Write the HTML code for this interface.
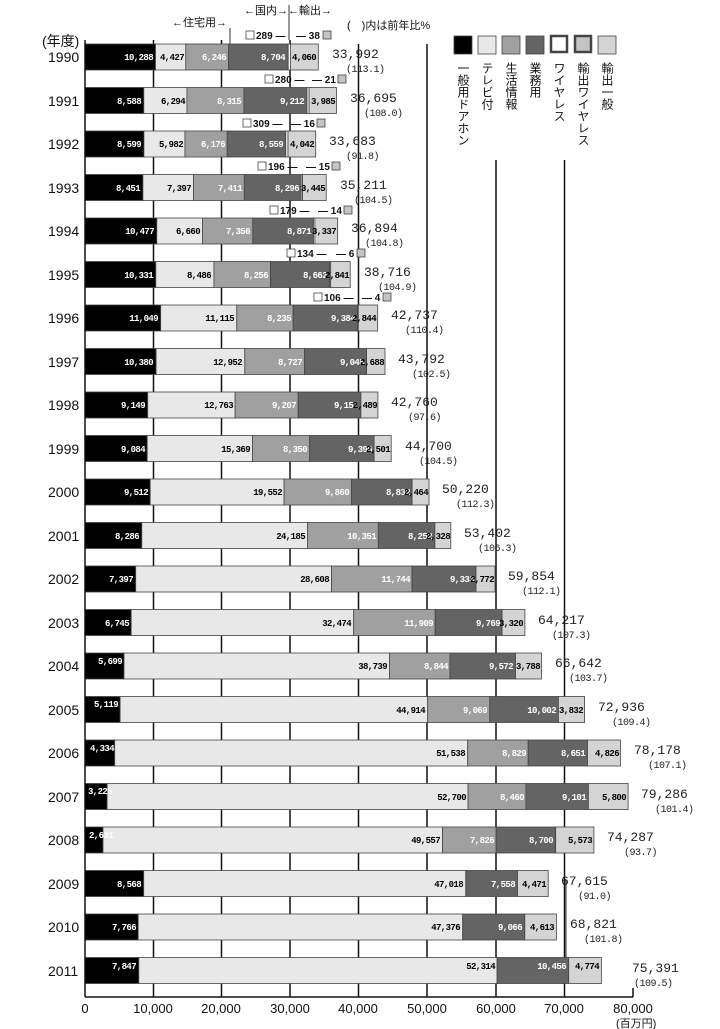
<!DOCTYPE html>
<html><head><meta charset="utf-8"><style>
html,body{margin:0;padding:0;background:#fff}
svg{display:block}
.y{font:14px "Liberation Sans","Noto Sans CJK JP",sans-serif;fill:#111}
.v{font:bold 9px "Liberation Mono","DejaVu Sans Mono",monospace;letter-spacing:-0.6px}
.w{fill:#fff}.k{fill:#000}
.t{font:13px "Liberation Mono","DejaVu Sans Mono",monospace;fill:#222}
.p{font:10px "Liberation Mono","DejaVu Sans Mono",monospace;fill:#222;letter-spacing:-0.5px}
.j{font:11px "Liberation Sans","Noto Sans CJK JP",sans-serif;fill:#111}
.ax{font:13px "Liberation Sans",sans-serif;fill:#111}
.c{font:bold 10px "Liberation Sans",sans-serif;fill:#111}
rect{stroke:#444;stroke-width:.8}
</style></head><body>
<svg width="720" height="1029" viewBox="0 0 720 1029" xmlns="http://www.w3.org/2000/svg">
<g stroke="#111" stroke-width="1.5">
<line x1="153.5" y1="40" x2="153.5" y2="997"/><line x1="221.5" y1="40" x2="221.5" y2="997"/>
<line x1="290" y1="40" x2="290" y2="997"/><line x1="358.5" y1="44" x2="358.5" y2="997"/>
<line x1="427" y1="44" x2="427" y2="997"/><line x1="496" y1="160" x2="496" y2="997"/>
<line x1="564.5" y1="160" x2="564.5" y2="997"/>
</g>
<g stroke="#333" stroke-width="1">
<line x1="230" y1="28" x2="230" y2="44"/><line x1="289" y1="5" x2="289" y2="40"/>
<line x1="566" y1="880" x2="566" y2="960"/>
</g>
<text class="j" x="172" y="26">←住宅用→</text>
<text class="j" x="244" y="14">←国内→←輸出→</text>
<text class="j" x="347" y="29">(　)内は前年比%</text>
<text class="y" x="42" y="46">(年度)</text>
<g>
<rect x="454" y="36" width="18" height="18" fill="#000"/>
<rect x="478" y="36" width="18" height="18" fill="#e8e8e8"/>
<rect x="502" y="36" width="18" height="18" fill="#a0a0a0"/>
<rect x="526" y="36" width="18" height="18" fill="#646464"/>
<rect x="551" y="36" width="16" height="16" fill="#fff" stroke="#000" style="stroke-width:2.5"/>
<rect x="575" y="36" width="16" height="16" fill="#c4c4c4" stroke="#000" style="stroke-width:2.5"/>
<rect x="598" y="36" width="18" height="18" fill="#d4d4d4"/>
</g>
<g class="j" style="writing-mode:vertical-rl;font-size:12px">
<text x="463" y="62">一般用ドアホン</text><text x="487" y="62">テレビ付</text>
<text x="511" y="62">生活情報</text><text x="535" y="62">業務用</text>
<text x="559" y="62">ワイヤレス</text><text x="583" y="62">輸出ワイヤレス</text>
<text x="607" y="62">輸出一般</text>
</g>
<g class="c">
<rect x="246" y="31" width="8" height="8" fill="#fff"/><text x="256" y="39">289 —</text><text x="296" y="39">— 38</text><rect x="323" y="31" width="8" height="8" fill="#c4c4c4"/>
<rect x="265" y="75" width="8" height="8" fill="#fff"/><text x="275" y="83">280 —</text><text x="312" y="83">— 21</text><rect x="338" y="75" width="8" height="8" fill="#c4c4c4"/>
<rect x="243" y="119" width="8" height="8" fill="#fff"/><text x="253" y="127">309 —</text><text x="291" y="127">— 16</text><rect x="317" y="119" width="8" height="8" fill="#c4c4c4"/>
<rect x="258" y="162" width="8" height="8" fill="#fff"/><text x="268" y="170">196 —</text><text x="306" y="170">— 15</text><rect x="332" y="162" width="8" height="8" fill="#c4c4c4"/>
<rect x="270" y="206" width="8" height="8" fill="#fff"/><text x="280" y="214">179 —</text><text x="318" y="214">— 14</text><rect x="344" y="206" width="8" height="8" fill="#c4c4c4"/>
<rect x="287" y="249" width="8" height="8" fill="#fff"/><text x="297" y="257">134 —</text><text x="336" y="257">— 6</text><rect x="357" y="249" width="8" height="8" fill="#c4c4c4"/>
<rect x="314" y="293" width="8" height="8" fill="#fff"/><text x="324" y="301">106 —</text><text x="362" y="301">— 4</text><rect x="383" y="293" width="8" height="8" fill="#c4c4c4"/>
</g>
<g class="y">
<text x="48" y="62">1990</text><text x="48" y="106">1991</text><text x="48" y="149">1992</text><text x="48" y="193">1993</text>
<text x="48" y="236">1994</text><text x="48" y="280">1995</text><text x="48" y="323">1996</text><text x="48" y="367">1997</text>
<text x="48" y="410">1998</text><text x="48" y="454">1999</text><text x="48" y="497">2000</text><text x="48" y="541">2001</text>
<text x="48" y="584">2002</text><text x="48" y="628">2003</text><text x="48" y="671">2004</text><text x="48" y="715">2005</text>
<text x="48" y="758">2006</text><text x="48" y="802">2007</text><text x="48" y="845">2008</text><text x="48" y="889">2009</text>
<text x="48" y="932">2010</text><text x="48" y="976">2011</text>
</g>
<g>
<rect x="85" y="44" width="70.5" height="26" fill="#000"/><rect x="155.5" y="44" width="30.3" height="26" fill="#e8e8e8"/><rect x="185.8" y="44" width="42.8" height="26" fill="#a0a0a0"/><rect x="228.6" y="44" width="59.6" height="26" fill="#646464"/><rect x="288.2" y="44" width="2.2" height="26" fill="#fff"/><rect x="290.4" y="44" width="27.9" height="26" fill="#d4d4d4"/>
<rect x="85" y="87.5" width="58.8" height="26" fill="#000"/><rect x="143.8" y="87.5" width="43.1" height="26" fill="#e8e8e8"/><rect x="186.9" y="87.5" width="57" height="26" fill="#a0a0a0"/><rect x="243.9" y="87.5" width="63.1" height="26" fill="#646464"/><rect x="307" y="87.5" width="2.1" height="26" fill="#fff"/><rect x="309.1" y="87.5" width="27.3" height="26" fill="#d4d4d4"/>
<rect x="85" y="131" width="58.9" height="26" fill="#000"/><rect x="143.9" y="131" width="41" height="26" fill="#e8e8e8"/><rect x="184.9" y="131" width="42.3" height="26" fill="#a0a0a0"/><rect x="227.2" y="131" width="58.6" height="26" fill="#646464"/><rect x="285.8" y="131" width="2.2" height="26" fill="#fff"/><rect x="288" y="131" width="27.7" height="26" fill="#d4d4d4"/>
<rect x="85" y="174.5" width="57.9" height="26" fill="#000"/><rect x="142.9" y="174.5" width="50.7" height="26" fill="#e8e8e8"/><rect x="193.6" y="174.5" width="50.7" height="26" fill="#a0a0a0"/><rect x="244.3" y="174.5" width="56.9" height="26" fill="#646464"/><rect x="301.2" y="174.5" width="1.4" height="26" fill="#fff"/><rect x="302.6" y="174.5" width="23.6" height="26" fill="#d4d4d4"/>
<rect x="85" y="218" width="71.8" height="26" fill="#000"/><rect x="156.8" y="218" width="45.6" height="26" fill="#e8e8e8"/><rect x="202.4" y="218" width="50.4" height="26" fill="#a0a0a0"/><rect x="252.8" y="218" width="60.7" height="26" fill="#646464"/><rect x="313.5" y="218" width="1.4" height="26" fill="#fff"/><rect x="314.9" y="218" width="22.8" height="26" fill="#d4d4d4"/>
<rect x="85" y="261.5" width="70.8" height="26" fill="#000"/><rect x="155.8" y="261.5" width="58.1" height="26" fill="#e8e8e8"/><rect x="213.9" y="261.5" width="56.6" height="26" fill="#a0a0a0"/><rect x="270.5" y="261.5" width="59.3" height="26" fill="#646464"/><rect x="329.8" y="261.5" width="0.9" height="26" fill="#fff"/><rect x="330.7" y="261.5" width="19.5" height="26" fill="#d4d4d4"/>
<rect x="85" y="305" width="75.7" height="26" fill="#000"/><rect x="160.7" y="305" width="76.1" height="26" fill="#e8e8e8"/><rect x="236.8" y="305" width="56.4" height="26" fill="#a0a0a0"/><rect x="293.2" y="305" width="64.3" height="26" fill="#646464"/><rect x="357.5" y="305" width="0.8" height="26" fill="#fff"/><rect x="358.3" y="305" width="19.4" height="26" fill="#d4d4d4"/>
<rect x="85" y="348.5" width="71.1" height="26" fill="#000"/><rect x="156.1" y="348.5" width="88.7" height="26" fill="#e8e8e8"/><rect x="244.8" y="348.5" width="59.8" height="26" fill="#a0a0a0"/><rect x="304.6" y="348.5" width="62" height="26" fill="#646464"/><rect x="366.6" y="348.5" width="18.4" height="26" fill="#d4d4d4"/>
<rect x="85" y="392" width="62.7" height="26" fill="#000"/><rect x="147.7" y="392" width="87.4" height="26" fill="#e8e8e8"/><rect x="235.1" y="392" width="63.1" height="26" fill="#a0a0a0"/><rect x="298.2" y="392" width="62.7" height="26" fill="#646464"/><rect x="360.9" y="392" width="17" height="26" fill="#d4d4d4"/>
<rect x="85" y="435.5" width="62.2" height="26" fill="#000"/><rect x="147.2" y="435.5" width="105.3" height="26" fill="#e8e8e8"/><rect x="252.5" y="435.5" width="57.2" height="26" fill="#a0a0a0"/><rect x="309.7" y="435.5" width="64.4" height="26" fill="#646464"/><rect x="374.1" y="435.5" width="17.1" height="26" fill="#d4d4d4"/>
<rect x="85" y="479" width="65.2" height="26" fill="#000"/><rect x="150.2" y="479" width="133.9" height="26" fill="#e8e8e8"/><rect x="284.1" y="479" width="67.5" height="26" fill="#a0a0a0"/><rect x="351.6" y="479" width="60.5" height="26" fill="#646464"/><rect x="412.1" y="479" width="16.9" height="26" fill="#d4d4d4"/>
<rect x="85" y="522.5" width="56.8" height="26" fill="#000"/><rect x="141.8" y="522.5" width="165.6" height="26" fill="#e8e8e8"/><rect x="307.4" y="522.5" width="70.9" height="26" fill="#a0a0a0"/><rect x="378.3" y="522.5" width="56.6" height="26" fill="#646464"/><rect x="434.9" y="522.5" width="15.9" height="26" fill="#d4d4d4"/>
<rect x="85" y="566" width="50.7" height="26" fill="#000"/><rect x="135.7" y="566" width="195.9" height="26" fill="#e8e8e8"/><rect x="331.6" y="566" width="80.5" height="26" fill="#a0a0a0"/><rect x="412.1" y="566" width="63.9" height="26" fill="#646464"/><rect x="476" y="566" width="19" height="26" fill="#d4d4d4"/>
<rect x="85" y="609.5" width="46.2" height="26" fill="#000"/><rect x="131.2" y="609.5" width="222.5" height="26" fill="#e8e8e8"/><rect x="353.7" y="609.5" width="81.5" height="26" fill="#a0a0a0"/><rect x="435.2" y="609.5" width="66.9" height="26" fill="#646464"/><rect x="502.1" y="609.5" width="22.8" height="26" fill="#d4d4d4"/>
<rect x="85" y="653" width="39" height="26" fill="#000"/><rect x="124" y="653" width="265.4" height="26" fill="#e8e8e8"/><rect x="389.4" y="653" width="60.6" height="26" fill="#a0a0a0"/><rect x="450" y="653" width="65.5" height="26" fill="#646464"/><rect x="515.5" y="653" width="26" height="26" fill="#d4d4d4"/>
<rect x="85" y="696.5" width="35.1" height="26" fill="#000"/><rect x="120.1" y="696.5" width="307.6" height="26" fill="#e8e8e8"/><rect x="427.7" y="696.5" width="62.1" height="26" fill="#a0a0a0"/><rect x="489.8" y="696.5" width="68.6" height="26" fill="#646464"/><rect x="558.4" y="696.5" width="26.2" height="26" fill="#d4d4d4"/>
<rect x="85" y="740" width="29.7" height="26" fill="#000"/><rect x="114.7" y="740" width="353" height="26" fill="#e8e8e8"/><rect x="467.7" y="740" width="60.5" height="26" fill="#a0a0a0"/><rect x="528.2" y="740" width="59.3" height="26" fill="#646464"/><rect x="587.5" y="740" width="33" height="26" fill="#d4d4d4"/>
<rect x="85" y="783.5" width="22.1" height="26" fill="#000"/><rect x="107.1" y="783.5" width="361" height="26" fill="#e8e8e8"/><rect x="468.1" y="783.5" width="57.9" height="26" fill="#a0a0a0"/><rect x="526" y="783.5" width="62.4" height="26" fill="#646464"/><rect x="588.4" y="783.5" width="39.7" height="26" fill="#d4d4d4"/>
<rect x="85" y="827" width="18" height="26" fill="#000"/><rect x="103" y="827" width="339.5" height="26" fill="#e8e8e8"/><rect x="442.5" y="827" width="53.6" height="26" fill="#a0a0a0"/><rect x="496.1" y="827" width="59.6" height="26" fill="#646464"/><rect x="555.7" y="827" width="38.2" height="26" fill="#d4d4d4"/>
<rect x="85" y="870.5" width="58.7" height="26" fill="#000"/><rect x="143.7" y="870.5" width="322.1" height="26" fill="#e8e8e8"/><rect x="465.8" y="870.5" width="51.7" height="26" fill="#646464"/><rect x="517.5" y="870.5" width="30.7" height="26" fill="#d4d4d4"/>
<rect x="85" y="914" width="53.2" height="26" fill="#000"/><rect x="138.2" y="914" width="324.5" height="26" fill="#e8e8e8"/><rect x="462.7" y="914" width="62.1" height="26" fill="#646464"/><rect x="524.8" y="914" width="31.6" height="26" fill="#d4d4d4"/>
<rect x="85" y="957.5" width="53.8" height="26" fill="#000"/><rect x="138.8" y="957.5" width="358.3" height="26" fill="#e8e8e8"/><rect x="497.1" y="957.5" width="71.6" height="26" fill="#646464"/><rect x="568.7" y="957.5" width="32.7" height="26" fill="#d4d4d4"/>
</g>
<g class="v" text-anchor="end">
<text class="w" x="153" y="60">10,288</text><text class="k" x="184" y="60">4,427</text><text class="w" x="226" y="60">6,246</text><text class="w" x="285" y="60">8,704</text><text class="k" x="316" y="60">4,060</text>
<text class="w" x="141" y="104">8,588</text><text class="k" x="185" y="104">6,294</text><text class="w" x="241" y="104">8,315</text><text class="w" x="304" y="104">9,212</text><text class="k" x="335" y="104">3,985</text>
<text class="w" x="141" y="147">8,599</text><text class="k" x="183" y="147">5,982</text><text class="w" x="225" y="147">6,176</text><text class="w" x="283" y="147">8,559</text><text class="k" x="314" y="147">4,042</text>
<text class="w" x="140" y="191">8,451</text><text class="k" x="191" y="191">7,397</text><text class="w" x="242" y="191">7,411</text><text class="w" x="299" y="191">8,296</text><text class="k" x="325" y="191">3,445</text>
<text class="w" x="154" y="234">10,477</text><text class="k" x="200" y="234">6,660</text><text class="w" x="250" y="234">7,356</text><text class="w" x="311" y="234">8,871</text><text class="k" x="336" y="234">3,337</text>
<text class="w" x="153" y="278">10,331</text><text class="k" x="211" y="278">8,486</text><text class="w" x="268" y="278">8,256</text><text class="w" x="327" y="278">8,662</text><text class="k" x="349" y="278">2,841</text>
<text class="w" x="158" y="321">11,049</text><text class="k" x="234" y="321">11,115</text><text class="w" x="291" y="321">8,235</text><text class="w" x="355" y="321">9,384</text><text class="k" x="376" y="321">2,844</text>
<text class="w" x="153" y="365">10,380</text><text class="k" x="242" y="365">12,952</text><text class="w" x="302" y="365">8,727</text><text class="w" x="364" y="365">9,045</text><text class="k" x="384" y="365">2,688</text>
<text class="w" x="145" y="408">9,149</text><text class="k" x="233" y="408">12,763</text><text class="w" x="296" y="408">9,207</text><text class="w" x="358" y="408">9,152</text><text class="k" x="377" y="408">2,489</text>
<text class="w" x="145" y="452">9,084</text><text class="k" x="250" y="452">15,369</text><text class="w" x="307" y="452">8,350</text><text class="w" x="372" y="452">9,396</text><text class="k" x="390" y="452">2,501</text>
<text class="w" x="148" y="495">9,512</text><text class="k" x="282" y="495">19,552</text><text class="w" x="349" y="495">9,860</text><text class="w" x="410" y="495">8,832</text><text class="k" x="428" y="495">2,464</text>
<text class="w" x="139" y="539">8,286</text><text class="k" x="305" y="539">24,185</text><text class="w" x="376" y="539">10,351</text><text class="w" x="432" y="539">8,252</text><text class="k" x="450" y="539">2,328</text>
<text class="w" x="133" y="582">7,397</text><text class="k" x="329" y="582">28,608</text><text class="w" x="410" y="582">11,744</text><text class="w" x="474" y="582">9,333</text><text class="k" x="494" y="582">2,772</text>
<text class="w" x="129" y="626">6,745</text><text class="k" x="351" y="626">32,474</text><text class="w" x="433" y="626">11,909</text><text class="w" x="500" y="626">9,769</text><text class="k" x="523" y="626">3,320</text>
<text class="w" x="122" y="664">5,699</text><text class="k" x="387" y="669">38,739</text><text class="w" x="448" y="669">8,844</text><text class="w" x="513" y="669">9,572</text><text class="k" x="540" y="669">3,788</text>
<text class="w" x="118" y="707">5,119</text><text class="k" x="425" y="713">44,914</text><text class="w" x="487" y="713">9,069</text><text class="w" x="556" y="713">10,002</text><text class="k" x="583" y="713">3,832</text>
<text class="w" x="114" y="751">4,334</text><text class="k" x="465" y="756">51,538</text><text class="w" x="526" y="756">8,829</text><text class="w" x="585" y="756">8,651</text><text class="k" x="619" y="756">4,826</text>
<text class="w" x="112" y="794">3,225</text><text class="k" x="466" y="800">52,700</text><text class="w" x="524" y="800">8,460</text><text class="w" x="586" y="800">9,101</text><text class="k" x="626" y="800">5,800</text>
<text class="w" x="113" y="838">2,631</text><text class="k" x="440" y="843">49,557</text><text class="w" x="494" y="843">7,826</text><text class="w" x="553" y="843">8,700</text><text class="k" x="592" y="843">5,573</text>
<text class="w" x="141" y="887">8,568</text><text class="k" x="463" y="887">47,018</text><text class="w" x="515" y="887">7,558</text><text class="k" x="546" y="887">4,471</text>
<text class="w" x="136" y="930">7,766</text><text class="k" x="460" y="930">47,376</text><text class="w" x="522" y="930">9,066</text><text class="k" x="554" y="930">4,613</text>
<text class="w" x="136" y="969">7,847</text><text class="k" x="495" y="969">52,314</text><text class="w" x="566" y="969">10,456</text><text class="k" x="599" y="969">4,774</text>
</g>
<g class="t">
<text x="332" y="58">33,992</text><text x="350" y="102">36,695</text><text x="329" y="145">33,683</text><text x="340" y="189">35,211</text>
<text x="351" y="232">36,894</text><text x="364" y="276">38,716</text><text x="391" y="319">42,737</text><text x="398" y="363">43,792</text>
<text x="391" y="406">42,760</text><text x="405" y="450">44,700</text><text x="442" y="493">50,220</text><text x="464" y="537">53,402</text>
<text x="508" y="580">59,854</text><text x="538" y="624">64,217</text><text x="555" y="667">66,642</text><text x="598" y="711">72,936</text>
<text x="634" y="754">78,178</text><text x="641" y="798">79,286</text><text x="607" y="841">74,287</text><text x="561" y="885">67,615</text>
<text x="570" y="928">68,821</text><text x="632" y="972">75,391</text>
</g>
<g class="p">
<text x="346" y="72">(113.1)</text><text x="364" y="116">(108.0)</text><text x="346" y="159">(91.8)</text><text x="354" y="203">(104.5)</text>
<text x="365" y="246">(104.8)</text><text x="378" y="290">(104.9)</text><text x="405" y="333">(110.4)</text><text x="412" y="377">(102.5)</text>
<text x="408" y="420">(97.6)</text><text x="419" y="464">(104.5)</text><text x="456" y="507">(112.3)</text><text x="478" y="551">(106.3)</text>
<text x="522" y="594">(112.1)</text><text x="552" y="638">(107.3)</text><text x="569" y="681">(103.7)</text><text x="612" y="725">(109.4)</text>
<text x="648" y="768">(107.1)</text><text x="655" y="812">(101.4)</text><text x="624" y="855">(93.7)</text><text x="578" y="899">(91.0)</text>
<text x="584" y="942">(101.8)</text><text x="634" y="986">(109.5)</text>
</g>
<g stroke="#111" stroke-width="1.5">
<line x1="85" y1="40" x2="85" y2="997"/><line x1="85" y1="997" x2="633" y2="997"/>
<line x1="633" y1="988" x2="633" y2="997"/>
</g>
<g class="ax" text-anchor="middle">
<text x="85" y="1013">0</text><text x="153" y="1013">10,000</text><text x="221" y="1013">20,000</text><text x="290" y="1013">30,000</text>
<text x="358" y="1013">40,000</text><text x="427" y="1013">50,000</text><text x="496" y="1013">60,000</text><text x="564" y="1013">70,000</text>
<text x="633" y="1013">80,000</text>
</g>
<text class="j" x="616" y="1027">(百万円)</text>
</svg>
</body></html>
